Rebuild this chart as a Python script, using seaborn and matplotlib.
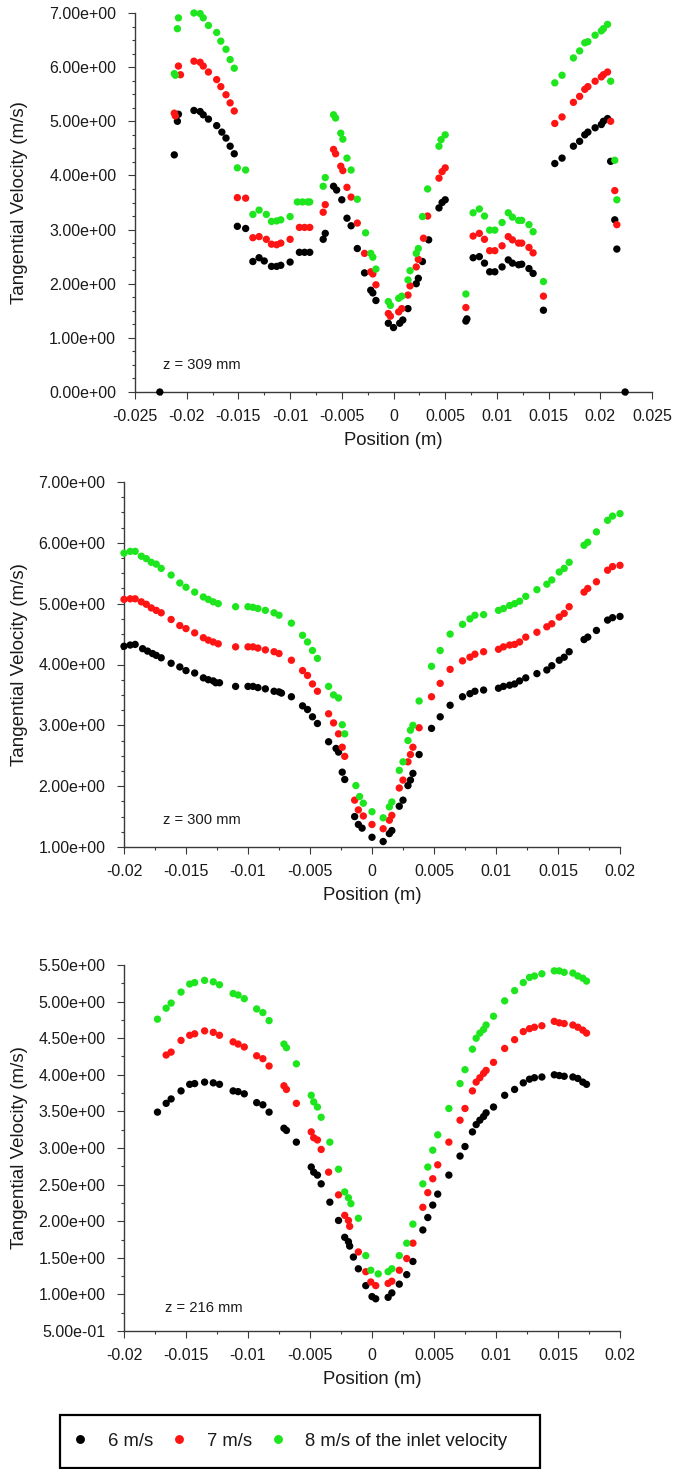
import numpy as np
import pandas as pd
import matplotlib
matplotlib.use("Agg")
import matplotlib.pyplot as plt
from matplotlib.ticker import MultipleLocator, FuncFormatter
from matplotlib.patches import Rectangle
from matplotlib.lines import Line2D
import seaborn as sns

sns.set_theme(style="ticks")
plt.rcParams['font.family'] = ['Liberation Sans', 'DejaVu Sans']

series_labels = ["6 m/s", "7 m/s", "8 m/s of the inlet velocity"]
series_colors = ["#000000", "#ff1414", "#1ee61e"]
panel_labels = ["z = 309 mm", "z = 300 mm", "z = 216 mm"]

# ---------------- z = 309 mm ----------------
pts309_6 = [(-0.0226, 0.0), (-0.0212, 4.38), (-0.0209, 5.00), (-0.0208, 5.13), (-0.0193, 5.20), (-0.0187, 5.18),
            (-0.0184, 5.12), (-0.0179, 5.04), (-0.0171, 4.92), (-0.0166, 4.80), (-0.0162, 4.69), (-0.0158, 4.54),
            (-0.0154, 4.40), (-0.0151, 3.06), (-0.0143, 3.02), (-0.0136, 2.41), (-0.0130, 2.48), (-0.0125, 2.42),
            (-0.0118, 2.32), (-0.0113, 2.32), (-0.0109, 2.34), (-0.0100, 2.40), (-0.0091, 2.58), (-0.0086, 2.58),
            (-0.0081, 2.58), (-0.0068, 2.82), (-0.0066, 2.93), (-0.0058, 3.80), (-0.0055, 3.73), (-0.0050, 3.55),
            (-0.0045, 3.21), (-0.0041, 3.07), (-0.0035, 2.65), (-0.0028, 2.20), (-0.0022, 1.88), (-0.0020, 1.83),
            (-0.0017, 1.69), (-0.0005, 1.27), (0.0000, 1.19), (0.0006, 1.27), (0.0009, 1.33), (0.0014, 1.54),
            (0.0022, 2.00), (0.0024, 2.10), (0.0028, 2.41), (0.0034, 2.81), (0.0044, 3.40), (0.0047, 3.50),
            (0.0050, 3.55), (0.0070, 1.31), (0.0071, 1.35), (0.0077, 2.48), (0.0083, 2.50), (0.0088, 2.38),
            (0.0093, 2.22), (0.0098, 2.22), (0.0105, 2.31), (0.0111, 2.44), (0.0115, 2.38), (0.0121, 2.35),
            (0.0124, 2.36), (0.0131, 2.28), (0.0135, 2.19), (0.0145, 1.51), (0.0156, 4.22), (0.0163, 4.32),
            (0.0174, 4.54), (0.0180, 4.63), (0.0185, 4.75), (0.0188, 4.80), (0.0195, 4.88), (0.0201, 4.94),
            (0.0203, 5.00), (0.0207, 5.05), (0.0210, 4.26), (0.0214, 3.18), (0.0216, 2.64), (0.0224, 0.0)]
pts309_7 = [(-0.0212, 5.15), (-0.0211, 5.10), (-0.0208, 6.02), (-0.0206, 5.86), (-0.0193, 6.11), (-0.0187, 6.09),
            (-0.0184, 6.02), (-0.0179, 5.91), (-0.0171, 5.77), (-0.0167, 5.64), (-0.0162, 5.49), (-0.0158, 5.34),
            (-0.0154, 5.19), (-0.0151, 3.59), (-0.0143, 3.58), (-0.0136, 2.85), (-0.0130, 2.87), (-0.0123, 2.82),
            (-0.0118, 2.73), (-0.0113, 2.72), (-0.0109, 2.75), (-0.0100, 2.82), (-0.0091, 3.04), (-0.0086, 3.04),
            (-0.0081, 3.04), (-0.0068, 3.32), (-0.0066, 3.46), (-0.0058, 4.48), (-0.0056, 4.40), (-0.0051, 4.17),
            (-0.0049, 4.09), (-0.0045, 3.78), (-0.0041, 3.60), (-0.0035, 3.12), (-0.0028, 2.56), (-0.0022, 2.22),
            (-0.0020, 2.18), (-0.0017, 1.98), (-0.0005, 1.45), (-0.0003, 1.40), (0.0005, 1.48), (0.0008, 1.54),
            (0.0014, 1.79), (0.0016, 1.96), (0.0022, 2.31), (0.0024, 2.45), (0.0029, 2.84), (0.0033, 3.25),
            (0.0044, 3.95), (0.0047, 4.07), (0.0050, 4.14), (0.0070, 1.56), (0.0077, 2.88), (0.0083, 2.93),
            (0.0088, 2.82), (0.0093, 2.61), (0.0098, 2.61), (0.0105, 2.70), (0.0111, 2.87), (0.0115, 2.81),
            (0.0121, 2.75), (0.0124, 2.75), (0.0131, 2.67), (0.0135, 2.57), (0.0145, 1.77), (0.0156, 4.96),
            (0.0163, 5.08), (0.0174, 5.35), (0.0180, 5.46), (0.0185, 5.59), (0.0188, 5.64), (0.0195, 5.74),
            (0.0201, 5.82), (0.0203, 5.86), (0.0207, 5.91), (0.0210, 5.00), (0.0214, 3.72), (0.0216, 3.09)]
pts309_8 = [(-0.0212, 5.88), (-0.0211, 5.85), (-0.0209, 6.71), (-0.0208, 6.91), (-0.0193, 7.00), (-0.0187, 6.99),
            (-0.0184, 6.91), (-0.0179, 6.77), (-0.0171, 6.64), (-0.0167, 6.48), (-0.0162, 6.33), (-0.0158, 6.14),
            (-0.0154, 5.98), (-0.0151, 4.14), (-0.0143, 4.10), (-0.0136, 3.28), (-0.0130, 3.36), (-0.0123, 3.28),
            (-0.0118, 3.15), (-0.0113, 3.16), (-0.0109, 3.18), (-0.0100, 3.24), (-0.0093, 3.51), (-0.0088, 3.51),
            (-0.0083, 3.51), (-0.0081, 3.51), (-0.0068, 3.80), (-0.0066, 3.96), (-0.0058, 5.12), (-0.0056, 5.06),
            (-0.0051, 4.78), (-0.0049, 4.67), (-0.0045, 4.32), (-0.0041, 4.10), (-0.0035, 3.56), (-0.0027, 2.94),
            (-0.0022, 2.56), (-0.0020, 2.49), (-0.0017, 2.27), (-0.0005, 1.67), (-0.0003, 1.60), (0.0005, 1.73),
            (0.0008, 1.77), (0.0014, 2.07), (0.0016, 2.24), (0.0022, 2.56), (0.0024, 2.65), (0.0028, 3.24),
            (0.0033, 3.75), (0.0044, 4.54), (0.0046, 4.66), (0.0050, 4.75), (0.0070, 1.81), (0.0077, 3.31),
            (0.0083, 3.38), (0.0088, 3.25), (0.0093, 2.99), (0.0098, 2.99), (0.0105, 3.13), (0.0111, 3.31),
            (0.0115, 3.23), (0.0121, 3.17), (0.0124, 3.17), (0.0131, 3.09), (0.0135, 2.96), (0.0145, 2.04),
            (0.0156, 5.71), (0.0163, 5.85), (0.0174, 6.17), (0.0180, 6.30), (0.0185, 6.45), (0.0188, 6.47),
            (0.0195, 6.59), (0.0201, 6.67), (0.0203, 6.71), (0.0207, 6.79), (0.0210, 5.74), (0.0214, 4.28),
            (0.0216, 3.55)]

# ---------------- z = 300 mm ----------------
pts300_6 = [(-0.0200, 4.30), (-0.0195, 4.32), (-0.0191, 4.33), (-0.0185, 4.26), (-0.0181, 4.22), (-0.0177, 4.18),
            (-0.0174, 4.15), (-0.0170, 4.11), (-0.0162, 4.02), (-0.0155, 3.96), (-0.0150, 3.90), (-0.0143, 3.86),
            (-0.0136, 3.78), (-0.0132, 3.75), (-0.0128, 3.73), (-0.0126, 3.70), (-0.0123, 3.70), (-0.0110, 3.64),
            (-0.0100, 3.64), (-0.0096, 3.64), (-0.0092, 3.62), (-0.0086, 3.60), (-0.0079, 3.56), (-0.0075, 3.55),
            (-0.0073, 3.53), (-0.0065, 3.47), (-0.0056, 3.32), (-0.0052, 3.26), (-0.0048, 3.14), (-0.0044, 3.03),
            (-0.0035, 2.73), (-0.0029, 2.62), (-0.0027, 2.56), (-0.0024, 2.23), (-0.0022, 2.11), (-0.0014, 1.50),
            (-0.0011, 1.37), (-0.0008, 1.31), (0.0000, 1.16), (0.0009, 1.09), (0.0014, 1.22), (0.0016, 1.27),
            (0.0022, 1.67), (0.0025, 1.77), (0.0029, 2.01), (0.0031, 2.10), (0.0033, 2.21), (0.0038, 2.52),
            (0.0048, 2.95), (0.0055, 3.14), (0.0063, 3.33), (0.0073, 3.47), (0.0079, 3.52), (0.0083, 3.56),
            (0.0090, 3.58), (0.0102, 3.61), (0.0106, 3.64), (0.0111, 3.66), (0.0115, 3.68), (0.0119, 3.73),
            (0.0124, 3.78), (0.0133, 3.85), (0.0141, 3.91), (0.0145, 3.98), (0.0151, 4.07), (0.0155, 4.12),
            (0.0159, 4.21), (0.0171, 4.41), (0.0174, 4.45), (0.0181, 4.56), (0.0190, 4.73), (0.0194, 4.77),
            (0.0200, 4.79)]
pts300_7 = [(-0.0200, 5.07), (-0.0195, 5.08), (-0.0191, 5.08), (-0.0186, 5.03), (-0.0182, 4.99), (-0.0178, 4.93),
            (-0.0174, 4.89), (-0.0170, 4.85), (-0.0162, 4.74), (-0.0155, 4.64), (-0.0150, 4.59), (-0.0143, 4.52),
            (-0.0136, 4.44), (-0.0132, 4.40), (-0.0128, 4.37), (-0.0124, 4.34), (-0.0110, 4.29), (-0.0100, 4.29),
            (-0.0096, 4.29), (-0.0092, 4.27), (-0.0086, 4.24), (-0.0079, 4.21), (-0.0075, 4.18), (-0.0065, 4.07),
            (-0.0056, 3.90), (-0.0052, 3.82), (-0.0048, 3.68), (-0.0044, 3.56), (-0.0035, 3.19), (-0.0031, 3.04),
            (-0.0027, 2.86), (-0.0024, 2.64), (-0.0022, 2.49), (-0.0014, 1.77), (-0.0011, 1.61), (-0.0007, 1.51),
            (0.0000, 1.37), (0.0009, 1.30), (0.0014, 1.44), (0.0016, 1.52), (0.0022, 1.97), (0.0025, 2.10),
            (0.0029, 2.40), (0.0031, 2.52), (0.0033, 2.64), (0.0038, 2.96), (0.0048, 3.47), (0.0055, 3.69),
            (0.0063, 3.92), (0.0073, 4.06), (0.0079, 4.12), (0.0083, 4.17), (0.0090, 4.21), (0.0102, 4.25),
            (0.0106, 4.29), (0.0111, 4.32), (0.0115, 4.33), (0.0119, 4.37), (0.0124, 4.45), (0.0133, 4.53),
            (0.0141, 4.62), (0.0145, 4.67), (0.0151, 4.78), (0.0155, 4.84), (0.0159, 4.95), (0.0171, 5.19),
            (0.0174, 5.25), (0.0181, 5.36), (0.0190, 5.55), (0.0194, 5.61), (0.0200, 5.63)]
pts300_8 = [(-0.0200, 5.83), (-0.0195, 5.86), (-0.0191, 5.86), (-0.0186, 5.78), (-0.0182, 5.74), (-0.0178, 5.68),
            (-0.0174, 5.65), (-0.0170, 5.58), (-0.0162, 5.47), (-0.0155, 5.34), (-0.0150, 5.27), (-0.0143, 5.19),
            (-0.0136, 5.11), (-0.0132, 5.07), (-0.0128, 5.03), (-0.0124, 5.00), (-0.0110, 4.95), (-0.0100, 4.95),
            (-0.0096, 4.94), (-0.0092, 4.92), (-0.0086, 4.89), (-0.0079, 4.85), (-0.0075, 4.81), (-0.0065, 4.68),
            (-0.0056, 4.48), (-0.0052, 4.37), (-0.0048, 4.23), (-0.0044, 4.10), (-0.0035, 3.64), (-0.0031, 3.50),
            (-0.0027, 3.45), (-0.0024, 3.01), (-0.0022, 2.86), (-0.0013, 2.01), (-0.0010, 1.83), (-0.0007, 1.72),
            (0.0000, 1.58), (0.0009, 1.48), (0.0014, 1.66), (0.0016, 1.74), (0.0022, 2.26), (0.0025, 2.40),
            (0.0029, 2.75), (0.0031, 2.92), (0.0033, 3.00), (0.0038, 3.40), (0.0048, 3.97), (0.0055, 4.23),
            (0.0063, 4.50), (0.0073, 4.66), (0.0079, 4.75), (0.0083, 4.81), (0.0090, 4.82), (0.0102, 4.89),
            (0.0106, 4.92), (0.0111, 4.97), (0.0115, 5.00), (0.0119, 5.04), (0.0124, 5.12), (0.0133, 5.23),
            (0.0141, 5.32), (0.0145, 5.39), (0.0151, 5.52), (0.0155, 5.58), (0.0159, 5.68), (0.0171, 5.96),
            (0.0174, 6.01), (0.0181, 6.18), (0.0190, 6.37), (0.0194, 6.44), (0.0200, 6.48)]

# ---------------- z = 216 mm ----------------
pts216_6 = [(-0.0173, 3.49), (-0.0166, 3.61), (-0.0162, 3.67), (-0.0154, 3.78), (-0.0147, 3.87), (-0.0143, 3.88),
            (-0.0135, 3.90), (-0.0128, 3.89), (-0.0123, 3.87), (-0.0112, 3.78), (-0.0108, 3.77), (-0.0103, 3.74),
            (-0.0093, 3.62), (-0.0088, 3.59), (-0.0083, 3.49), (-0.0071, 3.27), (-0.0069, 3.24), (-0.0061, 3.08),
            (-0.0049, 2.74), (-0.0047, 2.67), (-0.0044, 2.63), (-0.0041, 2.51), (-0.0034, 2.26), (-0.0027, 2.01),
            (-0.0022, 1.78), (-0.0019, 1.72), (-0.0018, 1.66), (-0.0015, 1.51), (-0.0011, 1.35), (-0.0005, 1.12),
            (0.0000, 0.97), (0.0003, 0.94), (0.0013, 0.96), (0.0016, 1.02), (0.0022, 1.14), (0.0028, 1.27),
            (0.0033, 1.45), (0.0041, 1.88), (0.0045, 2.05), (0.0049, 2.22), (0.0053, 2.37), (0.0062, 2.63),
            (0.0071, 2.89), (0.0075, 3.02), (0.0081, 3.22), (0.0084, 3.32), (0.0087, 3.38), (0.0090, 3.43),
            (0.0092, 3.48), (0.0098, 3.56), (0.0107, 3.72), (0.0115, 3.80), (0.0122, 3.89), (0.0127, 3.94),
            (0.0131, 3.96), (0.0137, 3.97), (0.0147, 4.00), (0.0151, 3.99), (0.0155, 3.98), (0.0162, 3.97),
            (0.0166, 3.95), (0.0170, 3.90), (0.0173, 3.87)]
pts216_7 = [(-0.0166, 4.27), (-0.0162, 4.31), (-0.0154, 4.47), (-0.0147, 4.54), (-0.0143, 4.56), (-0.0135, 4.60),
            (-0.0128, 4.58), (-0.0123, 4.54), (-0.0112, 4.45), (-0.0108, 4.42), (-0.0103, 4.38), (-0.0093, 4.26),
            (-0.0088, 4.22), (-0.0083, 4.12), (-0.0071, 3.85), (-0.0069, 3.80), (-0.0061, 3.61), (-0.0049, 3.22),
            (-0.0047, 3.14), (-0.0044, 3.11), (-0.0041, 2.98), (-0.0035, 2.67), (-0.0027, 2.36), (-0.0022, 2.08),
            (-0.0019, 2.01), (-0.0018, 1.93), (-0.0011, 1.58), (-0.0005, 1.31), (-0.0001, 1.17), (0.0003, 1.12),
            (0.0013, 1.15), (0.0016, 1.18), (0.0022, 1.33), (0.0028, 1.49), (0.0033, 1.70), (0.0041, 2.19),
            (0.0045, 2.39), (0.0049, 2.58), (0.0053, 2.77), (0.0062, 3.08), (0.0071, 3.38), (0.0075, 3.54),
            (0.0081, 3.78), (0.0084, 3.90), (0.0087, 3.96), (0.0090, 4.02), (0.0092, 4.06), (0.0098, 4.17),
            (0.0107, 4.36), (0.0115, 4.48), (0.0122, 4.59), (0.0127, 4.63), (0.0131, 4.65), (0.0137, 4.67),
            (0.0147, 4.73), (0.0151, 4.71), (0.0155, 4.70), (0.0162, 4.68), (0.0166, 4.65), (0.0170, 4.61),
            (0.0173, 4.57)]
pts216_8 = [(-0.0173, 4.76), (-0.0166, 4.91), (-0.0162, 4.98), (-0.0154, 5.13), (-0.0147, 5.24), (-0.0143, 5.26),
            (-0.0135, 5.29), (-0.0128, 5.27), (-0.0123, 5.23), (-0.0112, 5.11), (-0.0108, 5.09), (-0.0103, 5.04),
            (-0.0093, 4.90), (-0.0088, 4.85), (-0.0083, 4.74), (-0.0071, 4.42), (-0.0069, 4.37), (-0.0061, 4.15),
            (-0.0049, 3.72), (-0.0047, 3.63), (-0.0044, 3.56), (-0.0041, 3.42), (-0.0034, 3.08), (-0.0027, 2.71),
            (-0.0022, 2.40), (-0.0019, 2.32), (-0.0017, 2.24), (-0.0011, 2.04), (-0.0005, 1.53), (-0.0001, 1.33),
            (0.0005, 1.28), (0.0013, 1.31), (0.0016, 1.35), (0.0022, 1.53), (0.0028, 1.70), (0.0033, 1.96),
            (0.0041, 2.51), (0.0045, 2.74), (0.0049, 2.97), (0.0053, 3.18), (0.0062, 3.54), (0.0071, 3.88),
            (0.0075, 4.07), (0.0081, 4.35), (0.0084, 4.50), (0.0087, 4.57), (0.0090, 4.62), (0.0092, 4.68),
            (0.0098, 4.80), (0.0107, 5.01), (0.0115, 5.15), (0.0122, 5.26), (0.0127, 5.33), (0.0131, 5.35),
            (0.0137, 5.38), (0.0147, 5.42), (0.0151, 5.42), (0.0155, 5.40), (0.0162, 5.39), (0.0166, 5.35),
            (0.0170, 5.32), (0.0173, 5.28)]

panels = [
    dict(series=[pts309_6, pts309_7, pts309_8], label=panel_labels[0],
         xlim=(-0.025, 0.025), ylim=(0.0, 7.0), ymajor=1.0,
         rect=(135, 13, 652, 392), ann=(163, 365)),
    dict(series=[pts300_6, pts300_7, pts300_8], label=panel_labels[1],
         xlim=(-0.02, 0.02), ylim=(1.0, 7.0), ymajor=1.0,
         rect=(124, 482, 620, 847), ann=(163, 820)),
    dict(series=[pts216_6, pts216_7, pts216_8], label=panel_labels[2],
         xlim=(-0.02, 0.02), ylim=(0.5, 5.5), ymajor=0.5,
         rect=(124, 965, 620, 1331), ann=(165, 1308)),
]

W, H = 673, 1469
fig = plt.figure(figsize=(W / 100, H / 100), dpi=100)
fig.patch.set_facecolor("white")

spine_col = "#3a3a3a"
text_col = "#1a1a1a"
palette = dict(zip(series_labels, series_colors))


def xfmt(v, p):
    if abs(v) < 1e-12:
        return "0"
    return f"{v:g}"


def yfmt(v, p):
    return f"{v:.2e}"


for pan in panels:
    l, t, r, b = pan["rect"]
    ax = fig.add_axes([l / W, 1 - b / H, (r - l) / W, (b - t) / H])
    rows = []
    for lab, pts in zip(series_labels, pan["series"]):
        for (x, y) in pts:
            rows.append((x, y, lab))
    df = pd.DataFrame(rows, columns=["Position (m)", "Tangential Velocity (m/s)", "Inlet"])
    sns.scatterplot(data=df, x="Position (m)", y="Tangential Velocity (m/s)", hue="Inlet",
                    hue_order=series_labels, palette=palette, s=28, linewidth=0,
                    legend=False, ax=ax, clip_on=False, zorder=3)
    ax.set_xlim(*pan["xlim"])
    ax.set_ylim(*pan["ylim"])
    ax.xaxis.set_major_locator(MultipleLocator(0.005))
    ax.xaxis.set_minor_locator(MultipleLocator(0.0025))
    ax.yaxis.set_major_locator(MultipleLocator(pan["ymajor"]))
    ax.yaxis.set_minor_locator(MultipleLocator(0.25))
    ax.xaxis.set_major_formatter(FuncFormatter(xfmt))
    ax.yaxis.set_major_formatter(FuncFormatter(yfmt))
    for s in ["top", "right"]:
        ax.spines[s].set_visible(False)
    for s in ["left", "bottom"]:
        ax.spines[s].set_color(spine_col)
        ax.spines[s].set_linewidth(1.0)
    ax.tick_params(which="major", direction="out", length=5, width=0.8, color=spine_col,
                   labelsize=11.5, labelcolor=text_col)
    ax.tick_params(which="minor", direction="out", length=2.5, width=0.8, color=spine_col)
    ax.tick_params(axis="x", which="major", pad=7.5)
    ax.tick_params(axis="y", which="major", pad=8.5)
    ax.set_xlabel("Position (m)", fontsize=13.3, color=text_col)
    ax.set_ylabel("Tangential Velocity (m/s)", fontsize=13.5, color=text_col)
    axw, axh = (r - l), (b - t)
    ax.yaxis.set_label_coords((28 - l) / axw, 0.5)
    ax.xaxis.set_label_coords(0.5, -40 / axh)
    ax.text((pan["ann"][0] - l) / axw, (b - pan["ann"][1]) / axh, pan["label"],
            transform=ax.transAxes, ha="left", va="center", fontsize=10.6, color=text_col)
    ax.set_facecolor("white")

# legend
handles = [Line2D([], [], marker="o", linestyle="none", markersize=6.4,
                  markerfacecolor=c, markeredgewidth=0) for c in series_colors]
leg = fig.legend(handles, series_labels, loc="center left",
                 bbox_to_anchor=(71 / W, 1 - 1441 / H), frameon=False,
                 fontsize=13.3, handlelength=1.0, handletextpad=1.0,
                 columnspacing=0.9, ncol=3, borderpad=0, borderaxespad=0)
for txt in leg.get_texts():
    txt.set_color(text_col)
fig.patches.append(Rectangle((60 / W, 1 - 1468 / H), 480 / W, 53 / H,
                             transform=fig.transFigure, fill=False,
                             edgecolor="#000000", linewidth=1.6, figure=fig))

fig.savefig("out.png", dpi=100, facecolor="white")
